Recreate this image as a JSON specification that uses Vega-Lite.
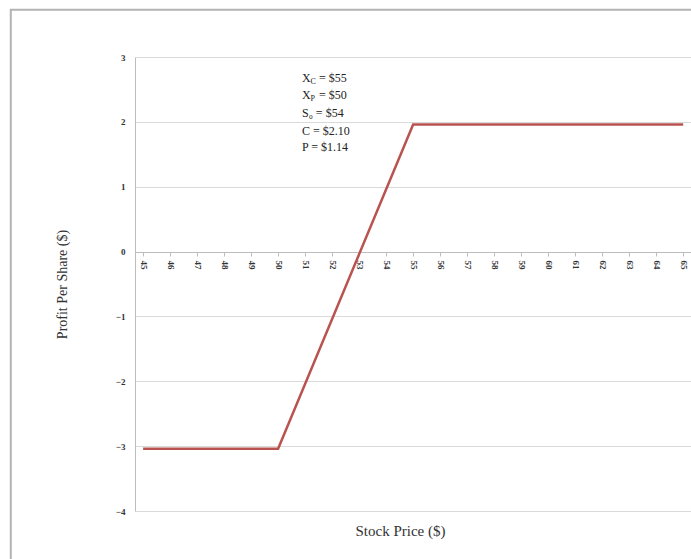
{
  "$schema": "https://vega.github.io/schema/vega-lite/v6.json",
  "width": 556,
  "height": 454,
  "autosize": {"type": "none"},
  "padding": {"left": 135, "top": 57, "right": 0, "bottom": 48},
  "background": "white",
  "config": {
    "view": {"stroke": null},
    "font": "Liberation Serif",
    "axis": {"labelOverlap": false, "labelFlush": false}
  },
  "datasets": {
    "payoff": [
      {"price": 45, "profit": -3.04},
      {"price": 50, "profit": -3.04},
      {"price": 55, "profit": 1.96},
      {"price": 65, "profit": 1.96}
    ],
    "notes": [
      {"price": 50.885, "profit": 2.68, "main": "X", "sub": "C", "rest": "= $55"},
      {"price": 50.885, "profit": 2.41, "main": "X", "sub": "P", "rest": "= $50"},
      {"price": 50.885, "profit": 2.14, "main": "S₀ = $54", "sub": "", "rest": ""},
      {"price": 50.885, "profit": 1.86, "main": "C = $2.10", "sub": "", "rest": ""},
      {"price": 50.885, "profit": 1.61, "main": "P = $1.14", "sub": "", "rest": ""}
    ]
  },
  "layer": [
    {
      "data": {"name": "payoff"},
      "mark": {"type": "line", "color": "#b9534f", "strokeWidth": 2.5, "clip": true},
      "encoding": {
        "x": {
          "field": "price", "type": "quantitative",
          "scale": {"domain": [44.7, 65.29], "nice": false, "zero": false},
          "axis": {
            "orient": "bottom",
            "offset": -259,
            "values": [45,46,47,48,49,50,51,52,53,54,55,56,57,58,59,60,61,62,63,64,65],
            "tickCount": 21,
            "format": "d",
            "labelOverlap": false,
            "labelSeparation": 0,
            "labelAngle": 90,
            "labelAlign": "left",
            "labelBaseline": "middle",
            "labelFontSize": 9,
            "labelFontWeight": "bold",
            "labelColor": "#333333",
            "labelPadding": 4,
            "tickSize": 4,
            "tickColor": "#bdbdbd",
            "domainColor": "#bdbdbd",
            "grid": false,
            "title": "Stock Price ($)",
            "titleFont": "Liberation Serif",
            "titleFontSize": 15,
            "titleFontWeight": "normal",
            "titleColor": "#333333",
            "titleY": 278,
            "titleBaseline": "middle",
            "titleX": 265
          }
        },
        "y": {
          "field": "profit", "type": "quantitative",
          "scale": {"domain": [-4, 3], "nice": false},
          "axis": {
            "values": [-4,-3,-2,-1,0,1,2,3],
            "format": "d",
            "grid": true,
            "labelFontSize": 9,
            "labelFontWeight": "bold",
            "labelColor": "#333333",
            "labelPadding": 10,
            "tickSize": 0,
            "domainColor": "#bdbdbd",
            "gridColor": "#d9d9d9",
            "title": "Profit Per Share ($)",
            "titleFont": "Liberation Serif",
            "titleFontSize": 14,
            "titleFontWeight": "normal",
            "titleColor": "#333333",
            "titlePadding": 46
          }
        }
      }
    },
    {
      "data": {"values": [{}]},
      "mark": {"type": "rect", "fill": null, "stroke": "#b3b3b3", "strokeWidth": 2, "clip": false},
      "encoding": {
        "x": {"datum": 40.1, "type": "quantitative"},
        "x2": {"datum": 70},
        "y": {"datum": 3.73, "type": "quantitative"},
        "y2": {"datum": -5}
      }
    },
    {
      "data": {"name": "notes"},
      "mark": {"type": "text", "align": "left", "baseline": "middle", "fontSize": 12, "color": "#222222", "font": "Liberation Serif"},
      "encoding": {
        "x": {"field": "price", "type": "quantitative"},
        "y": {"field": "profit", "type": "quantitative"},
        "text": {"field": "main"}
      }
    },
    {
      "data": {"name": "notes"},
      "mark": {"type": "text", "align": "left", "baseline": "middle", "fontSize": 8, "dx": 8.5, "dy": 4, "color": "#222222", "font": "Liberation Serif"},
      "encoding": {
        "x": {"field": "price", "type": "quantitative"},
        "y": {"field": "profit", "type": "quantitative"},
        "text": {"field": "sub"}
      }
    },
    {
      "data": {"name": "notes"},
      "mark": {"type": "text", "align": "left", "baseline": "middle", "fontSize": 12, "dx": 17, "color": "#222222", "font": "Liberation Serif"},
      "encoding": {
        "x": {"field": "price", "type": "quantitative"},
        "y": {"field": "profit", "type": "quantitative"},
        "text": {"field": "rest"}
      }
    }
  ]
}
